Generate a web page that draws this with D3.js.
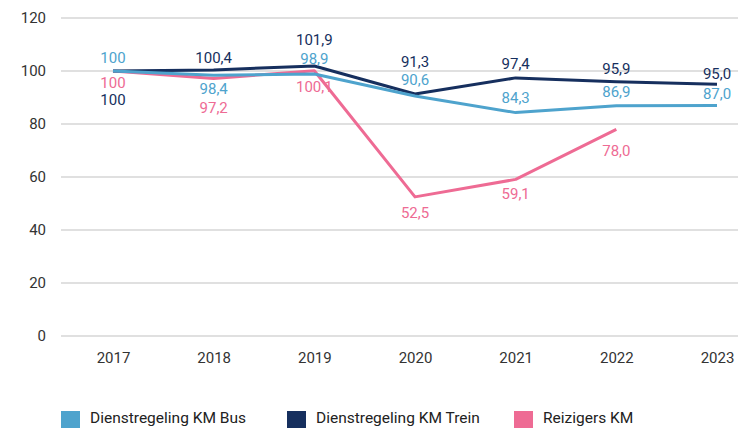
<!DOCTYPE html>
<html>
<head>
<meta charset="utf-8">
<script src="https://cdn.jsdelivr.net/npm/d3@7"></script>
<style>
  body { margin: 0; background: #fff; }
  svg { font-family: Roboto, sans-serif; display: block; }
</style>
</head>
<body>
<svg id="chart" width="738" height="428"></svg>
<script>
const years = ['2017', '2018', '2019', '2020', '2021', '2022', '2023']
const yTicks = [0, 20, 40, 60, 80, 100, 120]

const busKm = [100, 98.4, 98.9, 90.6, 84.3, 86.9, 87.0]
const treinKm = [100, 100.4, 101.9, 91.3, 97.4, 95.9, 95.0]
const reizigersKm = [100, 97.2, 100.1, 52.5, 59.1, 78.0]

const busLabels = ['100', '98,4', '98,9', '90,6', '84,3', '86,9', '87,0']
const treinLabels = ['100', '100,4', '101,9', '91,3', '97,4', '95,9', '95,0']
const reizigersLabels = ['100', '97,2', '100,1', '52,5', '59,1', '78,0']

// label offsets (px, relative to point) so the labels don't collide
const busDy = [-13, 14, -15, -16, -15, -14, -12]
const treinDy = [29, -12, -26, -32, -14, -13, -11]
const reizigersDy = [12, 29, 16, 16, 14, 21]

const series = [
    { name: 'Dienstregeling KM Bus', color: '#4ea3cd', values: busKm, labels: busLabels, dy: busDy },
    { name: 'Dienstregeling KM Trein', color: '#162f5e', values: treinKm, labels: treinLabels, dy: treinDy },
    { name: 'Reizigers KM', color: '#ee6b94', values: reizigersKm, labels: reizigersLabels, dy: reizigersDy }
]

const svg = d3.select('#chart')

const x = d3.scalePoint().domain(years).range([113, 717])
const y = d3.scaleLinear().domain([0, 120]).range([336, 18])

// gridlines
svg.append('g')
    .selectAll('line')
    .data(yTicks)
    .enter()
    .append('line')
    .attr('x1', 61)
    .attr('x2', 738)
    .attr('y1', d => y(d))
    .attr('y2', d => y(d))
    .attr('stroke', '#d6d6d6')
    .attr('stroke-width', 1.5)

// y axis
const yAxis = svg.append('g')
    .attr('transform', 'translate(46,0)')
    .call(d3.axisLeft(y).tickValues(yTicks).tickSize(0).tickPadding(0))
yAxis.select('.domain').remove()
yAxis.selectAll('text')
    .attr('font-size', 15)
    .attr('fill', '#333')
    .attr('font-family', 'Roboto, sans-serif')

// x axis
const xAxis = svg.append('g')
    .attr('transform', 'translate(0,352)')
    .call(d3.axisBottom(x).tickSize(0).tickPadding(0))
xAxis.select('.domain').remove()
xAxis.selectAll('text')
    .attr('font-size', 15)
    .attr('fill', '#333')
    .attr('font-family', 'Roboto, sans-serif')

const line = d3.line()
    .x((d, i) => x(years[i]))
    .y(d => y(d))

// lines, drawn in reverse so bus ends on top of trein like the reference
series.slice().reverse().forEach(s => {
    svg.append('path')
        .datum(s.values)
        .attr('d', line)
        .attr('fill', 'none')
        .attr('stroke', s.color)
        .attr('stroke-width', 3)
        .attr('stroke-linejoin', 'round')
})

// value labels
series.forEach(s => {
    svg.append('g')
        .selectAll('text')
        .data(s.values)
        .enter()
        .append('text')
        .attr('x', (d, i) => x(years[i]))
        .attr('y', (d, i) => y(d) + s.dy[i])
        .attr('dy', '0.35em')
        .attr('text-anchor', 'middle')
        .attr('font-size', 15)
        .attr('fill', s.color)
        .text((d, i) => s.labels[i])
})

// legend
const legendX = [61, 287, 514]
const legend = svg.append('g')
series.forEach((s, i) => {
    legend.append('rect')
        .attr('x', legendX[i])
        .attr('y', 411)
        .attr('width', 19)
        .attr('height', 19)
        .attr('fill', s.color)
    legend.append('text')
        .attr('x', legendX[i] + 29)
        .attr('y', 418)
        .attr('dy', '0.35em')
        .attr('font-size', 15.5)
        .attr('fill', '#222')
        .text(s.name)
})
</script>
</body>
</html>
